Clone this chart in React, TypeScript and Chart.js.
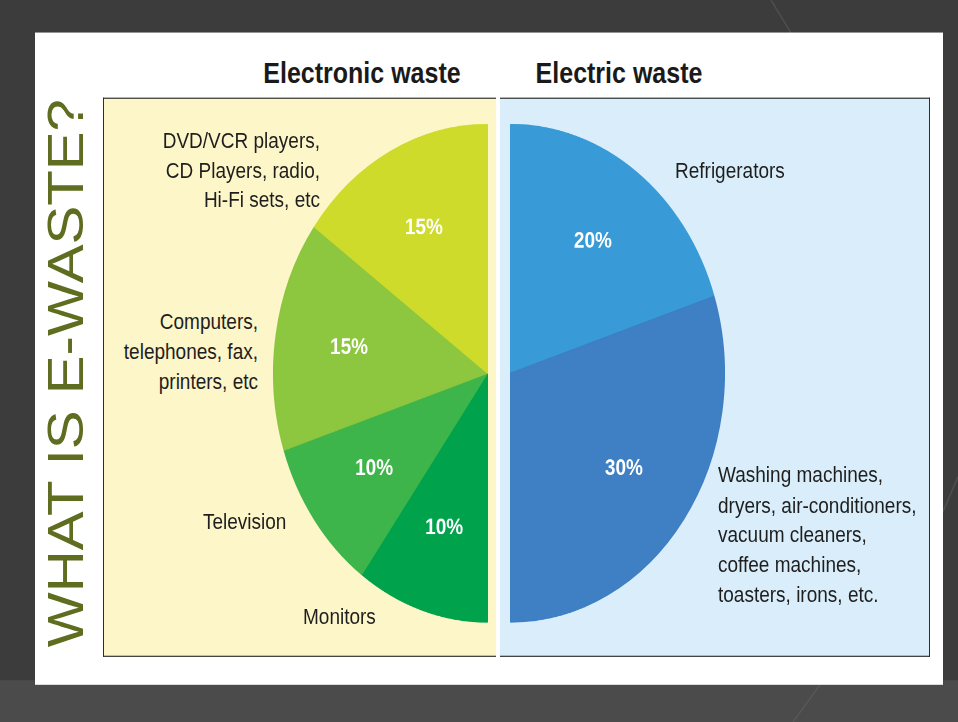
import React, { useEffect, useRef } from "react";
import { Chart, registerables } from "chart.js";

Chart.register(...registerables);

// ---- data ----
const electronicCategories = ["Monitors", "Television", "Computers", "DVD/VCR players"];
const electronicValues = [10, 10, 15, 15];
const electronicColors = ["#00a24c", "#3eb54a", "#8dc63f", "#cedb2b"];

const electricCategories = ["Refrigerators", "Washing machines"];
const electricValues = [20, 30];
const electricColors = ["#389bd7", "#3f7fc3"];

const dvdLines = ["DVD/VCR players,", "CD Players, radio,", "Hi-Fi sets, etc"];
const computerLines = ["Computers,", "telephones, fax,", "printers, etc"];
const televisionLines = ["Television"];
const monitorLines = ["Monitors"];
const fridgeLines = ["Refrigerators"];
const washingLines = [
  "Washing machines,",
  "dryers, air-conditioners,",
  "vacuum cleaners,",
  "coffee machines,",
  "toasters, irons, etc.",
];

const titleText = "WHAT IS E-WASTE?";
const leftTitle = "Electronic waste";
const rightTitle = "Electric waste";

// ---- layout ----
const W = 958;
const H = 621;
const SCALE_Y = 722 / H;
const FONT = '"Liberation Sans", Arial, sans-serif';

const percentPlugin = {
  id: "percentLabels",
  afterDatasetsDraw(chart: any) {
    const ctx = chart.ctx;
    const meta = chart.getDatasetMeta(0);
    const data = chart.data.datasets[0].data;
    ctx.save();
    ctx.fillStyle = "#ffffff";
    ctx.font = `bold 19px ${FONT}`;
    ctx.textAlign = "center";
    ctx.textBaseline = "middle";
    meta.data.forEach((arc: any, i: number) => {
      const p = arc.getProps(["x", "y", "startAngle", "endAngle", "outerRadius"], true);
      const mid = (p.startAngle + p.endAngle) / 2;
      const r = p.outerRadius * 0.655;
      ctx.fillText(`${data[i]}%`, p.x + Math.cos(mid) * r, p.y + Math.sin(mid) * r);
    });
    ctx.restore();
  },
};

function HalfPie(props: {
  labels: string[];
  values: number[];
  colors: string[];
  rotation: number;
  left: number;
  top: number;
  width: number;
  height: number;
}) {
  const ref = useRef<HTMLCanvasElement | null>(null);
  useEffect(() => {
    if (!ref.current) return;
    const chart = new Chart(ref.current, {
      type: "pie",
      data: {
        labels: props.labels,
        datasets: [
          {
            data: props.values,
            backgroundColor: props.colors,
            borderColor: props.colors,
            borderWidth: 1,
          },
        ],
      },
      options: {
        animation: false,
        responsive: false,
        devicePixelRatio: 2,
        rotation: props.rotation,
        circumference: 180,
        layout: { padding: 0 },
        plugins: {
          legend: { display: false },
          tooltip: { enabled: false },
        },
      },
      plugins: [percentPlugin],
    });
    return () => chart.destroy();
  }, []);
  return (
    <canvas
      ref={ref}
      width={props.width}
      height={props.height}
      style={{
        position: "absolute",
        left: props.left,
        top: props.top,
        width: props.width,
        height: props.height,
      }}
    />
  );
}

function TextBlock(props: {
  lines: string[];
  x: number;
  baseline: number;
  align: "left" | "right";
}) {
  const lh = 25.8;
  const boxW = 260;
  const top = props.baseline - 19.5;
  return (
    <div
      style={{
        position: "absolute",
        top,
        left: props.align === "left" ? props.x : props.x - boxW,
        width: boxW,
        textAlign: props.align,
        font: `19px ${FONT}`,
        lineHeight: `${lh}px`,
        color: "#1e1e1e",
        whiteSpace: "nowrap",
      }}
    >
      {props.lines.map((l, i) => (
        <div key={i}>{l}</div>
      ))}
    </div>
  );
}

export default function App() {
  const R = 215;
  const cy = 320.8;
  return (
    <div
      style={{
        position: "fixed",
        left: 0,
        top: 0,
        width: W,
        height: H,
        background: "#3c3c3c",
        transform: `scaleY(${SCALE_Y})`,
        transformOrigin: "0 0",
        overflow: "hidden",
      }}
    >
      {/* bottom band */}
      <div style={{ position: "absolute", left: 0, top: 585, width: W, height: H - 585, background: "#4b4b4b" }} />
      {/* faint decorative diagonals */}
      <svg width={W} height={H} style={{ position: "absolute", left: 0, top: 0 }}>
        <line x1={771} y1={0} x2={791} y2={28.4} stroke="#4e4e4e" strokeWidth={1.5} />
        <line x1={958} y1={410} x2={943} y2={440} stroke="#4e4e4e" strokeWidth={1.5} />
        <line x1={793} y1={621} x2={820} y2={589} stroke="#575757" strokeWidth={1.5} />
      </svg>
      {/* white panel */}
      <div style={{ position: "absolute", left: 35, top: 28.4, width: 908, height: 560.8, background: "#ffffff" }} />
      {/* left (yellow) box */}
      <div
        style={{
          position: "absolute",
          left: 103,
          top: 84.3,
          width: 393,
          height: 481,
          boxSizing: "border-box",
          background: "#fdf6c9",
          borderTop: "1.4px solid #2e2e2e",
          borderBottom: "1.4px solid #2e2e2e",
          borderLeft: "1.6px solid #2e2e2e",
        }}
      />
      {/* right (blue) box */}
      <div
        style={{
          position: "absolute",
          left: 500,
          top: 84.3,
          width: 430,
          height: 481,
          boxSizing: "border-box",
          background: "#d9eefa",
          borderTop: "1.4px solid #2e2e2e",
          borderBottom: "1.4px solid #2e2e2e",
          borderRight: "1.6px solid #2e2e2e",
        }}
      />
      {/* titles */}
      <div
        style={{
          position: "absolute",
          left: 362 - 150,
          width: 300,
          top: 46.8,
          textAlign: "center",
          font: `bold 25px ${FONT}`,
          lineHeight: "30px",
          color: "#1a1a1a",
        }}
      >
        {leftTitle}
      </div>
      <div
        style={{
          position: "absolute",
          left: 619 - 150,
          width: 300,
          top: 46.8,
          textAlign: "center",
          font: `bold 25px ${FONT}`,
          lineHeight: "30px",
          color: "#1a1a1a",
        }}
      >
        {rightTitle}
      </div>
      {/* vertical title */}
      <div
        style={{
          position: "absolute",
          left: 66 - 250,
          top: 320.5 - 25,
          width: 500,
          height: 50,
          textAlign: "center",
          font: `50px ${FONT}`,
          lineHeight: "50px",
          color: "#5e6d1f",
          whiteSpace: "nowrap",
          transform: "rotate(-90deg)",
          transformOrigin: "50% 50%",
        }}
      >
        {titleText}
      </div>
      {/* pies */}
      <HalfPie
        labels={electronicCategories}
        values={electronicValues}
        colors={electronicColors}
        rotation={180}
        left={488 - R}
        top={cy - R}
        width={R}
        height={2 * R}
      />
      <HalfPie
        labels={electricCategories}
        values={electricValues}
        colors={electricColors}
        rotation={0}
        left={510}
        top={cy - R}
        width={R}
        height={2 * R}
      />
      {/* category labels */}
      <TextBlock lines={dvdLines} x={320} baseline={127.3} align="right" />
      <TextBlock lines={computerLines} x={258} baseline={283.8} align="right" />
      <TextBlock lines={televisionLines} x={203} baseline={455.9} align="left" />
      <TextBlock lines={monitorLines} x={303} baseline={537.6} align="left" />
      <TextBlock lines={fridgeLines} x={675} baseline={153.1} align="left" />
      <TextBlock lines={washingLines} x={718} baseline={415.4} align="left" />
    </div>
  );
}
